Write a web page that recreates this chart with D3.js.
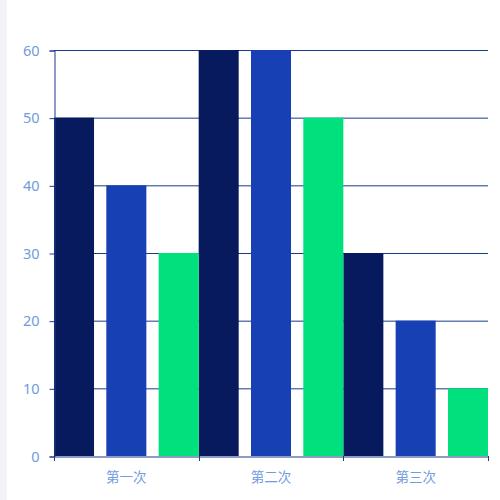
<!DOCTYPE html>
<html>
<head>
<meta charset="utf-8">
<script src="https://cdn.jsdelivr.net/npm/d3@7"></script>
<style>
  body { margin: 0; background: #fff; }
  svg { display: block; }
</style>
</head>
<body>
<svg width="500" height="500"></svg>
<script>
// данные графика
const categories = ["第一次", "第二次", "第三次"];
const seriesA = [50, 60, 30];
const seriesB = [40, 60, 20];
const seriesC = [30, 50, 10];
const yTicks = [0, 10, 20, 30, 40, 50, 60];
const colors = ["#071a5e", "#1740b5", "#00e07d"];

const svg = d3.select("svg");

// светлая полоса слева
svg.append("rect")
    .attr("x", 0).attr("y", 0)
    .attr("width", 7).attr("height", 500)
    .style("fill", "#f2f3f8");

const area = { left: 54, right: 488, top: 50, bottom: 456 };

const scX = d3.scaleBand()
    .domain(categories)
    .range([area.left, area.right])
    .padding(0);

const scY = d3.scaleLinear()
    .domain([0, 60])
    .range([area.bottom, area.top]);

const series = [seriesA, seriesB, seriesC];
const inner = d3.scaleBand()
    .domain([0, 1, 2])
    .range([0, scX.bandwidth()])
    .paddingInner(0.235)
    .paddingOuter(0);

// сетка
svg.append("g")
    .selectAll("line")
    .data(yTicks.filter(d => d > 0))
    .enter()
    .append("line")
    .attr("x1", area.left)
    .attr("x2", area.right)
    .attr("y1", d => scY(d) + 0.5)
    .attr("y2", d => scY(d) + 0.5)
    .style("stroke", "#1a3a8a")
    .style("stroke-width", 1);

// столбцы
series.forEach((vals, i) => {
    svg.append("g")
        .selectAll("rect")
        .data(vals)
        .enter()
        .append("rect")
        .attr("x", (d, j) => scX(categories[j]) + inner(i))
        .attr("y", d => scY(d))
        .attr("width", inner.bandwidth())
        .attr("height", d => scY(0) - scY(d))
        .style("fill", colors[i]);
});

// ось Y
const axisY = d3.axisLeft(scY).tickValues(yTicks).tickSize(5).tickPadding(10);
const gY = svg.append("g")
    .attr("transform", `translate(${area.left + 0.5}, 0.5)`)
    .call(axisY);
gY.select(".domain").style("stroke", "#1a3a8a");
gY.selectAll(".tick line").style("stroke", "#1a3a8a");
gY.selectAll("text")
    .style("fill", "#6f9be0")
    .style("font-family", "'Noto Sans', sans-serif")
    .style("font-size", "14.5px");

// ось X
const axisX = d3.axisBottom(scX).tickSize(0).tickPadding(16);
const gX = svg.append("g")
    .attr("transform", `translate(0, ${area.bottom + 0.5})`)
    .call(axisX);
gX.select(".domain").style("stroke", "#1a3a8a");
gX.selectAll("text")
    .style("fill", "#6f9be0")
    .style("font-family", "'Noto Sans CJK SC', sans-serif")
    .style("font-size", "13.5px");

// деления на границах категорий
const bounds = categories.map(c => scX(c)).concat([area.right]);
svg.append("g")
    .selectAll("line")
    .data(bounds)
    .enter()
    .append("line")
    .attr("x1", d => Math.round(d) + 0.5)
    .attr("x2", d => Math.round(d) + 0.5)
    .attr("y1", area.bottom)
    .attr("y2", area.bottom + 5)
    .style("stroke", "#1a3a8a");
</script>
</body>
</html>
